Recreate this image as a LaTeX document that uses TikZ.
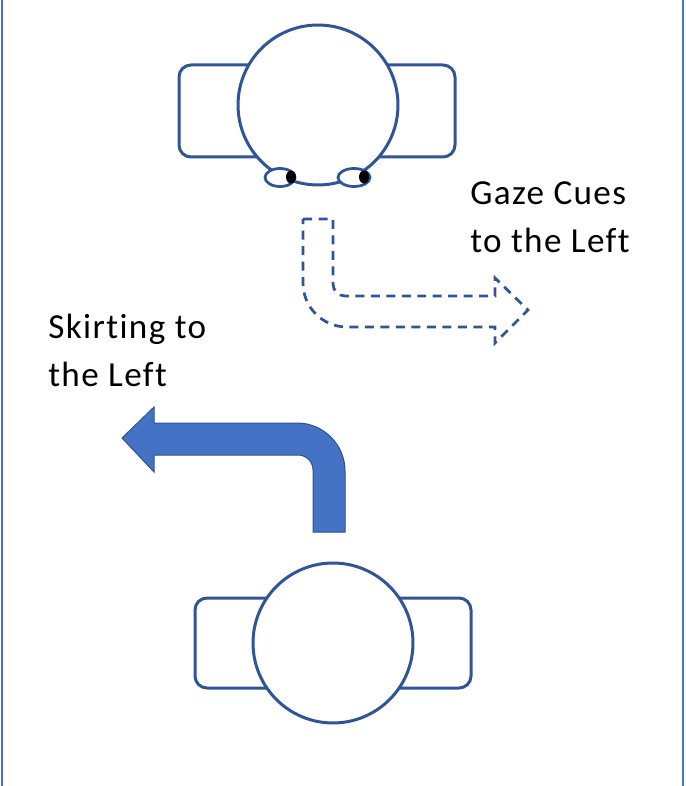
\documentclass[tikz,border=0pt]{standalone}
\usepackage{fontspec}
\setmainfont{Carlito}[Ligatures=NoCommon, LetterSpace=4]
\usepackage{tikz}

\definecolor{outline}{HTML}{2F5597}
\definecolor{accent}{HTML}{4472C4}
\definecolor{accentedge}{HTML}{2F528F}

\begin{document}
\begin{tikzpicture}[x=0.02cm, y=-0.02cm,
    body/.style={draw=outline, line width=0.06cm, fill=white, rounded corners=0.24cm},
    head/.style={shape=circle, draw=outline, line width=0.06cm, fill=white, minimum size=3.2cm, inner sep=0pt},
    eyeball/.style={draw=outline, line width=0.055cm, fill=white},
    textlabel/.style={font=\fontsize{20}{27.3}\selectfont, align=left, inner sep=0pt, anchor=north west},
    frame/.style={draw=accent, line width=0.04cm}]
    \useasboundingbox (0,0) rectangle (685,786);

    % side lines
    \draw[frame] (2,0) -- (2,786);
    \draw[frame] (683,0) -- (683,786);

    % upper figure
    \draw[body] (179,65) rectangle (455,157);
    \node[head] (topHead) at (318,105) {};
    \draw[eyeball] (280,177.5) ellipse [x radius=15, y radius=9];
    \draw[eyeball] (354,177.5) ellipse [x radius=16, y radius=9];
    \fill (291,177) ellipse [x radius=5, y radius=6.5];
    \fill (364,177) ellipse [x radius=5, y radius=6.5];

    % lower figure
    \draw[body] (195,598) rectangle (471,688);
    \node[head] (bottomHead) at (333,643) {};

    % dashed turn arrow
    \draw[draw=outline, line width=0.055cm, dash pattern=on 0.18cm off 0.13cm]
        (303,219) -- (333,219) -- (333,284)
        .. controls (333,290.6) and (338.4,296) .. (345,296)
        -- (495,296) -- (495,278) -- (528,310) -- (495,343) -- (495,327)
        -- (347,327) .. controls (322.7,327) and (303,307.3) .. (303,283) -- cycle;

    % solid turn arrow
    \filldraw[fill=accent, draw=accentedge, line width=0.02cm]
        (122,438) -- (154,407) -- (154,423) -- (297,423)
        .. controls (323.5,423) and (345,444.5) .. (345,471)
        -- (345,532) -- (313,532) -- (313,470)
        .. controls (313,461.7) and (306.3,455) .. (298,455)
        -- (154,455) -- (154,472) -- cycle;

    % labels
    \node[textlabel] (gazeCues) at (470,181) {Gaze Cues\\to the Left};
    \node[textlabel] (skirting) at (48,314) {Skirting to\\the Left};
\end{tikzpicture}
\end{document}
